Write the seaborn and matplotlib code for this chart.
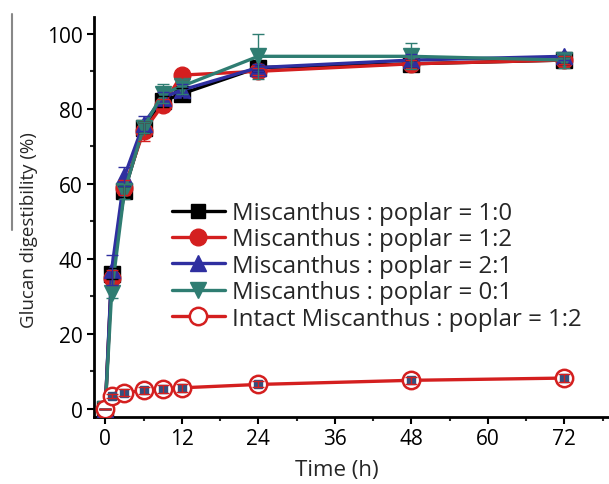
import numpy as np
import pandas as pd
import matplotlib
matplotlib.use("Agg")
import matplotlib.pyplot as plt
import seaborn as sns
from matplotlib.ticker import MultipleLocator
from matplotlib.lines import Line2D

time_h = [0, 1, 3, 6, 9, 12, 24, 48, 72]
labels = ["Miscanthus : poplar = 1:0", "Miscanthus : poplar = 1:2",
          "Miscanthus : poplar = 2:1", "Miscanthus : poplar = 0:1",
          "Intact Miscanthus : poplar = 1:2"]
m10 = [0, 36, 58, 75, 82, 84, 91, 92, 93]
m12 = [0, 35, 59, 74, 81, 89, 90, 92, 93]
m21 = [0, 37, 62, 76, 83, 85, 91, 93, 94]
m01 = [0, 31, 58, 75, 84, 86, 94, 94, 93]
intact = [0, 3.4, 4.3, 4.9, 5.3, 5.6, 6.5, 7.6, 8.2]
err10 = [0, 1.5, 1.5, 1.5, 1.5, 1.5, 1.0, 1.0, 1.0]
err12 = [0, 2.0, 2.0, 2.5, 1.5, 1.0, 1.0, 1.0, 1.0]
err21 = [0, 4.0, 2.5, 2.0, 1.5, 1.5, 1.0, 1.5, 1.0]
err01 = [0, 1.5, 2.0, 1.5, 2.5, 2.0, 6.0, 3.5, 2.0]
errin = [0, 0.5, 1.0, 1.0, 1.0, 1.0, 0.8, 1.0, 1.0]

series = [m10, m12, m21, m01, intact]
errs = [err10, err12, err21, err01, errin]
colors = ["#000000", "#d41f1f", "#2f2fa0", "#2f7d72", "#d41f1f"]
markers = ["s", "o", "^", "v", "o"]
faces = ["#000000", "#d41f1f", "#2f2fa0", "#2f7d72", "white"]
msizes = [11, 12, 12, 12, 12.5]

sns.set_theme(style="ticks")
plt.rcParams['font.family'] = ['Open Sans', 'DejaVu Sans']

fig = plt.figure(figsize=(6.09, 4.85), dpi=100)
ax = fig.add_axes([0.154, 0.138, 0.846, 0.825])

rows = []
for lab, ys in zip(labels, series):
    for t, y in zip(time_h, ys):
        rows.append({"Time": t, "Value": y, "Series": lab})
df = pd.DataFrame(rows)

handles = []
for i, (lab, ys, er) in enumerate(zip(labels, series, errs)):
    sub = df[df["Series"] == lab]
    sns.lineplot(data=sub, x="Time", y="Value", ax=ax, color=colors[i], lw=2.4,
                 marker=markers[i], markersize=msizes[i],
                 markerfacecolor=faces[i], markeredgecolor=colors[i],
                 markeredgewidth=1.8 if i == 4 else 1.0, zorder=3 + i, legend=False,
                 errorbar=None)
    if i == 4:
        ax.plot(time_h[1:], ys[1:], ls="none", marker="s", markersize=5.5,
                color="#34507e", zorder=9)
    ax.errorbar(time_h, ys, yerr=er, fmt="none", ecolor=colors[i], elinewidth=1.0,
                capsize=4, capthick=1.0, zorder=10 + i)
    handles.append(Line2D([], [], color=colors[i], lw=2.4, marker=markers[i],
                          markersize=msizes[i] if i else 10, markerfacecolor=faces[i],
                          markeredgecolor=colors[i],
                          markeredgewidth=1.8 if i == 4 else 1.0))

ax.set_xlim(-1.8, 79)
ax.set_ylim(-2.2, 104.5)
ax.xaxis.set_major_locator(MultipleLocator(12))
ax.xaxis.set_minor_locator(MultipleLocator(6))
ax.yaxis.set_major_locator(MultipleLocator(20))
ax.yaxis.set_minor_locator(MultipleLocator(10))
ax.tick_params(axis="both", which="major", labelsize=15, length=5, width=1.5,
               direction="out", colors="black", pad=3)
ax.tick_params(axis="both", which="minor", length=3, width=1.5, direction="out")
for s in ["top", "right"]:
    ax.spines[s].set_visible(False)
for s in ["left", "bottom"]:
    ax.spines[s].set_linewidth(2)
    ax.spines[s].set_color("black")

ax.set_xlabel("Time (h)", fontsize=16)
ax.xaxis.set_label_coords((337 - 94) / 515, -0.105)
ax.set_ylabel("Glucan digestibility (%)", fontsize=13.5)
ax.yaxis.set_label_coords(-0.108, 0.47)

leg = ax.legend(handles, labels, loc="upper left", bbox_to_anchor=((172 - 94) / 515, 0.54),
                frameon=False, fontsize=17.3, handlelength=2.2, handletextpad=0.3,
                labelspacing=0.1, borderaxespad=0, borderpad=0)

fig.add_artist(Line2D([0.02, 0.02], [0.97, 0.523], color="#888888", lw=1.5,
                      transform=fig.transFigure))

fig.savefig("out.png", dpi=100)
